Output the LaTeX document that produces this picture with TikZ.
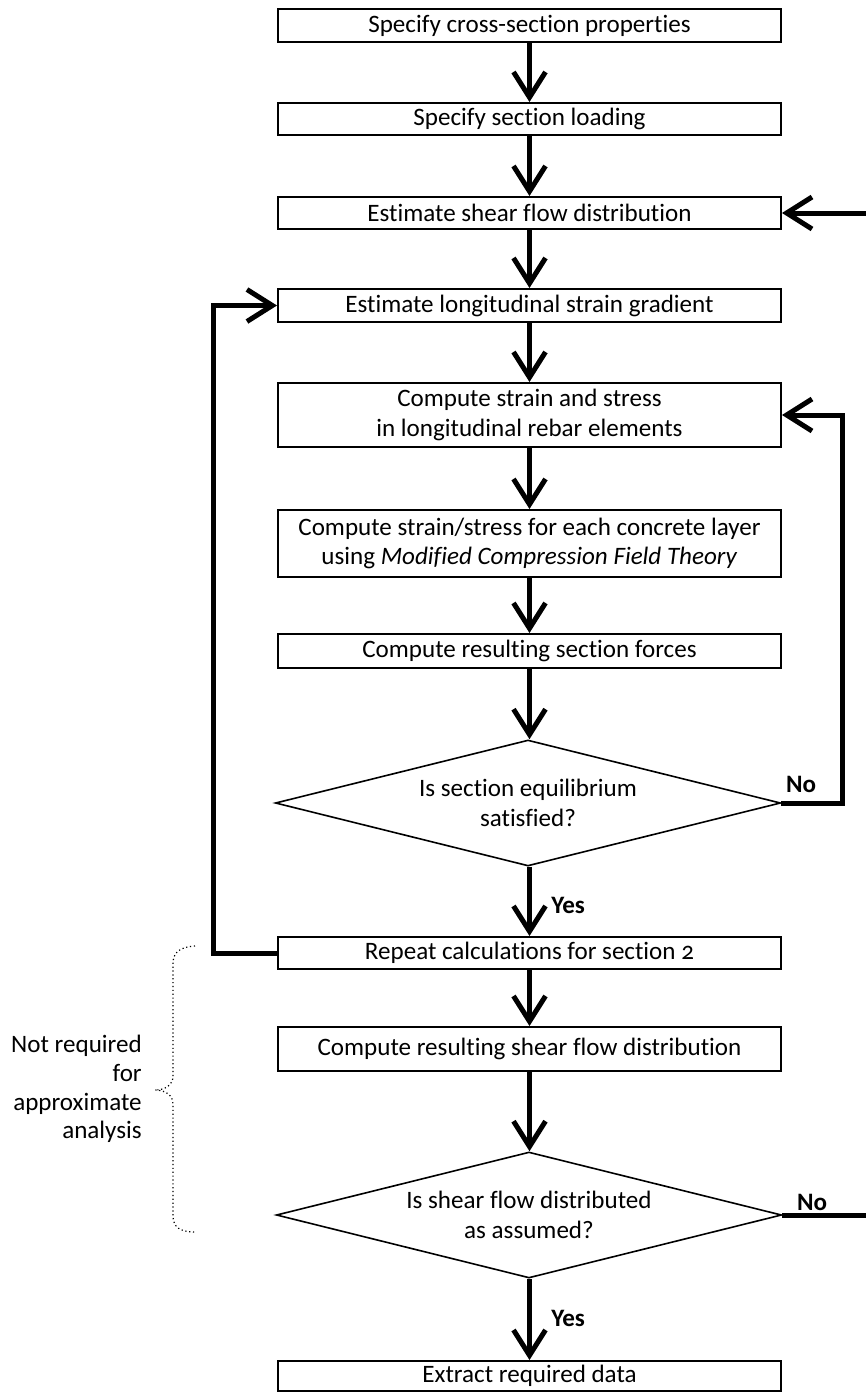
\documentclass[tikz,border=0pt]{standalone}
\usepackage{fontspec}
\setmainfont{Carlito}[Numbers=OldStyle,Ligatures=NoCommon]
\usetikzlibrary{arrows.meta,shapes.geometric}
\begin{document}
\begin{tikzpicture}[x=0.75pt,y=-0.75pt,
  font=\fontsize{18.8}{22}\selectfont,
  box/.style={draw, line width=1.5pt, minimum width=377.25pt, inner sep=0pt, align=center},
  dec/.style={draw, diamond, aspect=4, line width=1.2pt, minimum width=379pt, minimum height=94.5pt, inner sep=0pt, align=center},
  flow/.style={line width=3.75pt, -{Straight Barb[length=19pt,width=24pt]}},
  thickline/.style={line width=3.75pt},
  lab/.style={font=\fontsize{18.8}{22}\selectfont\bfseries, inner sep=0pt},
  bracestyle/.style={line width=0.9pt, dotted},
  note/.style={align=right, inner sep=0pt, font=\fontsize{18.8}{21.5}\selectfont}]
\useasboundingbox (0,0) rectangle (866,1392);

\node[box, minimum height=24.75pt] (b1) at (529.5,25.5) {Specify cross-section properties};
\node[box, minimum height=24pt] (b2) at (529.5,119) {Specify section loading};
\node[box, minimum height=24pt] (b3) at (529.5,213) {Estimate shear flow distribution};
\node[box, minimum height=24.75pt] (b4) at (529.5,305.5) {Estimate longitudinal strain gradient};
\node[box, minimum height=48pt] (b5) at (529.5,415) {Compute strain and stress\\in longitudinal rebar elements};
\node[box, minimum height=50.25pt] (b6) at (529.5,543.5) {Compute strain/stress for each concrete layer\\using \textit{Modified Compression Field Theory}};
\node[box, minimum height=25.5pt] (b7) at (529.5,651) {Compute resulting section forces};
\node[dec] (d1) at (528,803) {Is section equilibrium\\satisfied?};
\node[box, minimum height=24pt] (b8) at (529.5,953) {Repeat calculations for section 2};
\node[box, minimum height=33pt] (b9) at (529.5,1049) {Compute resulting shear flow distribution};
\node[dec] (d2) at (529,1215) {Is shear flow distributed\\as assumed?};
\node[box, minimum height=22.5pt] (b10) at (529.5,1376) {Extract required data};

\draw[flow] (b1) -- (b2);
\draw[flow] (b2) -- (b3);
\draw[flow] (b3) -- (b4);
\draw[flow] (b4) -- (b5);
\draw[flow] (b5) -- (b6);
\draw[flow] (b6) -- (b7);
\draw[flow] (b7.south) -- (b7.south |- d1.north);
\draw[flow] (d1.south -| b8.north) -- (b8.north);
\draw[flow] (b8) -- (b9);
\draw[flow] (b9.south) -- (b9.south |- d2.north);
\draw[flow] (d2.south -| b10.north) -- (b10.north);

\node[lab, anchor=west] (y1) at (551,905) {Yes};
\node[lab, anchor=west] (y2) at (551,1318) {Yes};
\node[lab] (n1) at (801,784) {No};
\node[lab] (n2) at (812,1202) {No};

% No loop 1
\coordinate (r1) at (842,803);
\draw[flow] (d1.east) -- (r1) |- (b5.east);
% No loop 2 (leaves the picture on the right)
\coordinate (r2a) at (866,1215);
\coordinate (r2b) at (866,213);
\draw[thickline] (d2.east) -- (r2a);
\draw[flow] (r2b) -- (b3.east);
% Repeat loop
\coordinate (l1) at (213,953);
\draw[flow] (b8.west) -- (l1) |- (b4.west);

% dotted brace
\draw[bracestyle] (195,946) .. controls (180,947) and (173,952) .. (173,964) -- (173,1076)
  .. controls (173,1085) and (165,1090) .. (155,1090)
  .. controls (165,1090) and (173,1095) .. (173,1104) -- (173,1216)
  .. controls (173,1227) and (180,1232) .. (195,1232);
\node[note, anchor=east] (nt) at (142,1089) {Not required\\for\\approximate\\analysis};
\end{tikzpicture}
\end{document}
